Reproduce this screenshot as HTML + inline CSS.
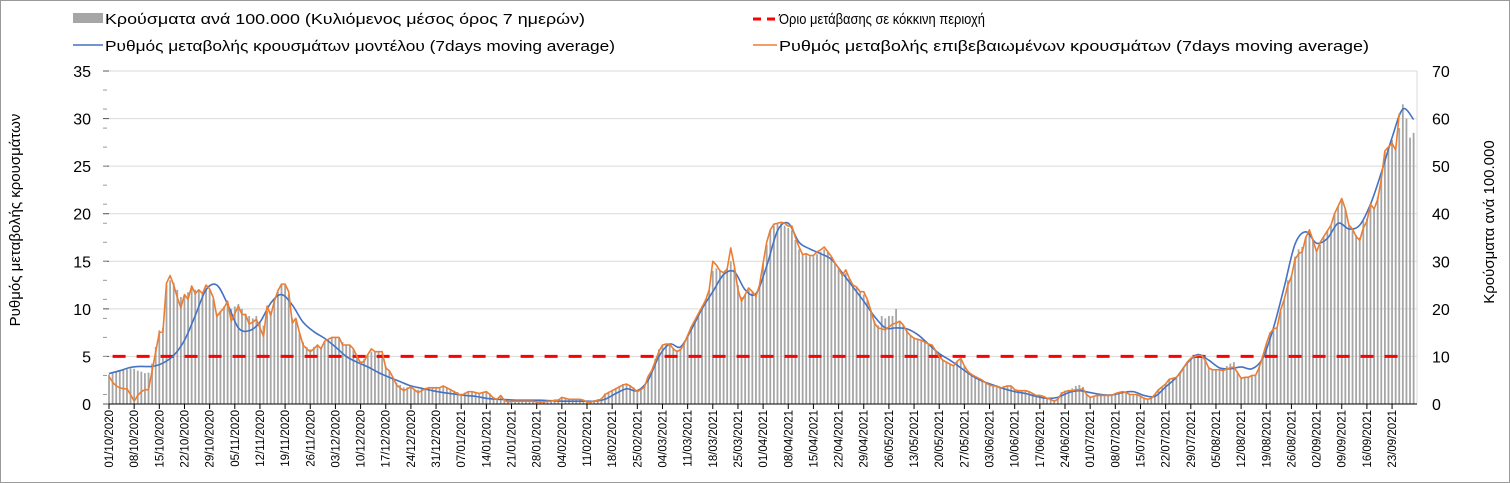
<!DOCTYPE html>
<html><head><meta charset="utf-8"><style>
html,body{margin:0;padding:0;background:#fff;}
svg{display:block;font-family:"Liberation Sans",Arial,sans-serif;}
</style></head><body>
<svg id="chart" width="1510" height="483" viewBox="0 0 1510 483">
<rect x="0.5" y="0.5" width="1509" height="482" fill="#fff" stroke="#9a9a9a"/>
<g id="grid"></g>
<g id="bars"></g>
<g id="thr"></g>
<g id="lines"></g>
<g id="axes"></g>
<g id="legend">
  <g>
    <rect x="73" y="13" width="30" height="10" fill="#a6a6a6"/>
    <text x="105" y="24" font-size="15" textLength="480" lengthAdjust="spacingAndGlyphs" fill="#000">Κρούσματα ανά 100.000 (Κυλιόμενος μέσος όρος 7 ημερών)</text>
  </g>
  <g>
    <line x1="73" y1="45" x2="103" y2="45" stroke="#4472c4" stroke-width="1.5"/>
    <text x="105" y="51" font-size="15" textLength="510" lengthAdjust="spacingAndGlyphs" fill="#000">Ρυθμός μεταβολής κρουσμάτων μοντέλου (7days moving average)</text>
  </g>
  <g>
    <line x1="753" y1="19" x2="778" y2="19" stroke="#ff0000" stroke-width="3" stroke-dasharray="8,6"/>
    <text x="779" y="24" font-size="15" textLength="206" lengthAdjust="spacingAndGlyphs" fill="#000">Όριο μετάβασης σε κόκκινη περιοχή</text>
  </g>
  <g>
    <line x1="753" y1="45" x2="777" y2="45" stroke="#ed7d31" stroke-width="1.5"/>
    <text x="779" y="51" font-size="15" textLength="590" lengthAdjust="spacingAndGlyphs" fill="#000">Ρυθμός μεταβολής επιβεβαιωμένων κρουσμάτων (7days moving average)</text>
  </g>
</g>
<text x="20" y="220" font-size="15" text-anchor="middle" transform="rotate(-90 20 220)">Ρυθμός μεταβολής κρουσμάτων</text>
<text x="1494" y="222" font-size="15" text-anchor="middle" transform="rotate(-90 1494 222)">Κρούσματα ανά 100.000</text>
</svg>
<script>
const startDate = [2020, 10, 1];
const threshold = 5;
const leftTicks = [0,5,10,15,20,25,30,35];
const rightTicks = [0,10,20,30,40,50,60,70];
const confirmedRate = [
2.9,2.3,1.9,1.7,1.6,1.6,1.0,0.3,0.9,1.3,
1.5,1.5,3.5,5.5,7.5,7.6,12.7,13.5,12.5,11.2,
10.1,11.5,11.0,12.4,11.6,12.0,11.6,12.5,12.1,11.2,
9.2,9.7,10.1,10.8,8.7,9.5,10.3,9.4,9.4,8.4,
8.6,8.9,8.0,7.1,10.3,9.3,10.8,11.9,12.6,12.6,
11.8,8.5,9.0,7.5,6.2,5.8,5.5,5.8,6.2,5.8,
6.6,6.8,7.0,7.0,7.0,6.2,6.2,6.2,5.8,5.0,
4.3,4.5,5.2,5.8,5.5,5.5,5.5,3.8,3.5,2.8,
2.0,1.7,1.4,1.6,1.8,1.5,1.2,1.4,1.6,1.7,
1.7,1.7,1.7,1.9,1.7,1.5,1.3,1.1,0.9,1.1,
1.3,1.3,1.2,1.1,1.2,1.3,1.0,0.6,0.5,0.9,
0.4,0.2,0.3,0.3,0.3,0.3,0.3,0.3,0.3,0.2,
0.2,0.2,0.3,0.3,0.4,0.4,0.7,0.6,0.5,0.5,
0.5,0.5,0.4,0.2,0.2,0.3,0.4,0.5,1.0,1.2,
1.4,1.6,1.8,2.0,2.1,1.9,1.6,1.3,1.5,1.8,
2.9,3.5,4.5,5.5,6.2,6.3,6.3,5.8,5.5,5.7,
6.3,7.2,8.1,8.8,9.5,10.2,10.9,12.0,15.0,14.6,
14.0,13.8,14.2,16.4,14.5,12.0,10.8,11.5,12.2,11.8,
11.3,12.5,14.8,17.0,18.3,18.9,19.0,19.1,19.0,18.7,
18.7,17.5,16.5,15.7,15.8,15.6,15.6,16.0,16.2,16.5,
16.0,15.5,14.8,14.3,13.5,14.1,13.2,12.5,12.3,11.8,
11.8,11.0,9.8,8.5,8.0,7.9,7.8,8.1,8.4,8.5,
8.7,8.3,7.6,7.2,6.9,6.8,6.7,6.5,6.3,6.2,
5.6,5.0,4.6,4.4,4.2,4.0,4.5,4.8,4.0,3.4,
3.1,2.9,2.7,2.5,2.2,2.0,1.9,1.9,1.65,1.8,
1.9,1.9,1.5,1.4,1.4,1.4,1.3,1.1,0.9,0.9,
0.8,0.6,0.5,0.3,0.5,1.1,1.3,1.4,1.4,1.5,
1.5,1.6,1.0,0.7,0.8,0.9,0.9,0.9,0.9,0.9,
1.1,1.2,1.3,1.2,1.0,1.0,1.0,0.8,0.6,0.5,
0.6,1.0,1.5,1.8,2.1,2.6,2.7,2.8,3.2,3.8,
4.4,4.8,5.0,5.1,5.1,4.6,3.8,3.6,3.6,3.6,
3.5,3.7,3.8,3.9,3.3,2.7,2.8,2.8,3.0,3.0,
3.8,5.0,6.3,7.4,7.9,8.0,9.9,11.0,12.5,13.4,
15.2,15.8,16.0,17.5,18.3,17.2,16.0,17.0,17.6,18.2,
18.8,20.0,20.8,21.6,20.5,18.8,18.4,17.6,17.2,18.5,
19.2,21.0,20.5,21.5,23.6,26.6,27.0,27.4,26.7,30.5
];
const modelStep = 3;
const modelRate = [
3.2,3.5,3.85,3.95,3.95,4.3,5.1,6.7,9.3,12.0,
12.5,10.5,8.0,7.7,8.6,10.6,11.5,10.4,8.6,7.6,
6.9,6.0,5.0,4.4,3.9,3.3,2.8,2.35,1.9,1.65,
1.4,1.2,1.05,0.9,0.8,0.6,0.5,0.45,0.4,0.4,
0.4,0.35,0.3,0.3,0.3,0.3,0.5,1.1,1.6,1.4,
2.5,5.0,6.3,6.0,7.8,10.0,11.8,13.6,13.9,12.0,
11.6,14.5,18.2,19.0,17.0,16.3,15.8,15.2,13.8,12.3,
10.8,9.2,8.0,8.0,7.9,7.3,6.3,5.3,4.6,3.8,
3.0,2.4,2.0,1.6,1.3,1.1,0.8,0.6,0.7,1.2,
1.4,1.2,1.0,0.95,1.2,1.3,0.9,0.8,1.8,2.8,
4.3,5.2,4.6,3.8,3.7,3.9,3.7,4.8,8.0,12.3,
16.8,18.1,16.9,17.4,19.0,18.4,18.8,21.0,24.3,28.0,
31.0,29.9
];
const casesPer100k = [
6.2,6.5,6.8,7.0,7.2,7.3,7.5,7.4,7.0,6.8,
6.5,6.6,8.5,12.0,15.5,16.0,25.0,26.0,25.5,24.0,
22.5,23.0,23.5,24.5,24.0,24.0,23.5,24.5,24.0,22.0,
19.0,19.5,20.5,21.5,20.0,20.5,21.0,20.0,19.0,18.5,
18.0,18.5,17.0,16.5,19.5,19.5,21.5,23.5,25.0,25.0,
23.0,18.0,17.5,15.0,13.0,12.0,11.5,12.0,12.5,12.0,
13.0,13.5,14.0,14.0,13.8,13.0,12.5,12.3,11.5,10.0,
9.0,9.5,10.5,11.0,11.0,11.0,10.5,8.0,7.0,5.5,
4.5,4.0,3.5,3.5,3.6,3.2,3.0,3.2,3.4,3.6,
3.6,3.6,3.6,3.8,3.5,3.2,2.8,2.5,2.2,2.4,
2.6,2.6,2.5,2.4,2.5,2.6,2.2,1.5,1.2,1.4,
1.0,0.8,0.8,0.8,0.8,0.8,0.8,0.8,0.7,0.7,
0.7,0.7,0.8,0.8,0.9,1.0,1.3,1.2,1.1,1.0,
1.0,1.0,0.9,0.7,0.7,0.8,1.0,1.3,2.2,2.6,
3.0,3.4,3.8,4.2,4.3,4.0,3.5,3.0,3.2,3.8,
5.5,7.0,9.5,11.5,12.5,12.6,12.4,11.8,11.3,11.6,
12.6,14.5,16.2,17.6,19.0,20.5,22.0,24.0,28.0,28.5,
28.0,27.6,28.5,30.0,28.5,25.0,22.5,23.0,24.0,23.5,
23.0,25.0,29.5,33.5,36.5,37.5,38.0,38.0,37.5,37.0,
36.5,34.5,32.5,31.5,31.5,31.0,31.0,31.5,32.0,32.5,
32.0,31.0,29.5,28.5,27.0,27.5,26.5,25.0,24.5,23.5,
23.0,22.0,19.5,17.5,16.5,18.5,18.0,18.5,18.5,20.0,
17.5,16.5,15.5,14.5,14.0,13.5,13.3,13.0,12.5,12.3,
11.2,10.2,9.3,8.8,8.5,8.2,8.8,9.5,8.0,7.0,
6.3,5.8,5.4,5.0,4.5,4.1,3.9,3.8,3.4,3.6,
3.8,3.8,3.1,2.9,2.8,2.8,2.6,2.3,1.9,1.8,
1.6,1.3,1.0,0.8,1.2,2.5,2.8,3.0,3.3,3.8,
4.0,3.6,2.2,1.6,1.8,1.9,1.9,1.9,1.9,1.9,
2.2,2.4,2.6,2.5,2.1,2.0,2.0,1.7,1.3,1.1,
1.3,2.1,3.0,3.6,4.2,5.2,5.5,5.7,6.4,7.6,
8.8,9.6,10.0,10.3,10.2,9.2,7.7,7.2,7.2,7.4,
7.6,8.0,8.5,8.8,6.8,5.6,5.6,5.8,6.0,6.2,
7.8,10.0,12.5,15.0,16.0,16.2,19.5,22.0,26.0,27.0,
31.0,32.5,33.0,35.0,36.5,34.5,32.0,33.5,35.0,36.5,
37.5,40.0,41.5,43.0,41.0,37.5,36.5,35.5,35.0,38.5,
39.0,41.5,41.0,43.5,47.5,53.0,54.0,55.5,53.5,58.0,
63.0,60.0,56.0,57.0
];

const NS = "http://www.w3.org/2000/svg";
const X0 = 109, PXD = 3.594, Y0 = 404, YTOP = 71, LMAX = 35, RMAX = 70, XR = 1417;
const nDays = casesPer100k.length;
function xScale(d){ return X0 + d * PXD; }
function yLeft(v){ return Y0 - v / LMAX * (Y0 - YTOP); }
function yRight(v){ return Y0 - v / RMAX * (Y0 - YTOP); }
function mk(tag, attrs, parent){
  const el = document.createElementNS(NS, tag);
  for (const k in attrs) el.setAttribute(k, attrs[k]);
  parent.appendChild(el);
  return el;
}
const grid = document.getElementById('grid');
const axes = document.getElementById('axes');
leftTicks.forEach(function(t){
  if (t > 0) {
    const g = mk('line', {x1: X0 - 6, x2: XR, y1: yLeft(t), y2: yLeft(t), stroke: '#d9d9d9', 'stroke-width': 1}, grid);
    
    
  }
  const tk = mk('line', {x1: X0 - 6, x2: X0, y1: yLeft(t), y2: yLeft(t), stroke: '#595959'}, axes);
  
  
  const lb = mk('text', {x: 91, y: yLeft(t) + 6, 'font-size': 16, 'text-anchor': 'end', fill: '#000'}, axes);
  lb.textContent = t;
  
  
});
for (let v = 1; v < LMAX; v += 2) {
  const mt = mk('line', {x1: X0 - 6, x2: X0 - 2, y1: yLeft(v), y2: yLeft(v), stroke: '#9a9a9a'}, axes);
  
  
}
rightTicks.forEach(function(t){
  const lb = mk('text', {x: 1432, y: yRight(t) + 6, 'font-size': 16, 'text-anchor': 'start', fill: '#000'}, axes);
  lb.textContent = t;
  
  
});
const ra = mk('line', {x1: XR, x2: XR, y1: YTOP, y2: Y0, stroke: '#d9d9d9'}, axes);



const barsG = document.getElementById('bars');
casesPer100k.forEach(function(v, i){
  const y = yRight(v);
  const b = mk('rect', {x: xScale(i) - 0.9, y: y, width: 1.8, height: Y0 - y, fill: '#a6a6a6'}, barsG);
  
  
});

const thrG = document.getElementById('thr');
const tl = mk('line', {x1: xScale(1), x2: xScale(nDays - 4), y1: yLeft(threshold), y2: yLeft(threshold), stroke: '#ff0000', 'stroke-width': 3, 'stroke-dasharray': '13,11'}, thrG);



const linesG = document.getElementById('lines');
function smoothPath(pts){
  let d = 'M' + pts[0][0] + ',' + pts[0][1];
  for (let i = 0; i < pts.length - 1; i++) {
    const p0 = pts[Math.max(0, i - 1)], p1 = pts[i], p2 = pts[i + 1], p3 = pts[Math.min(pts.length - 1, i + 2)];
    const c1x = p1[0] + (p2[0] - p0[0]) / 6, c1y = p1[1] + (p2[1] - p0[1]) / 6;
    const c2x = p2[0] - (p3[0] - p1[0]) / 6, c2y = p2[1] - (p3[1] - p1[1]) / 6;
    d += 'C' + c1x.toFixed(2) + ',' + c1y.toFixed(2) + ' ' + c2x.toFixed(2) + ',' + c2y.toFixed(2) + ' ' + p2[0].toFixed(2) + ',' + p2[1].toFixed(2);
  }
  return d;
}
const modelPts = modelRate.map(function(v, i){ return [xScale(i * modelStep), yLeft(v)]; });
const mp = mk('path', {d: smoothPath(modelPts), fill: 'none', stroke: '#4472c4', 'stroke-width': 1.6}, linesG);


const confPts = confirmedRate.map(function(v, i){ return xScale(i).toFixed(2) + ',' + yLeft(v).toFixed(2); });
const cp = mk('polyline', {points: confPts.join(' '), fill: 'none', stroke: '#ed7d31', 'stroke-width': 1.6, 'stroke-linejoin': 'round'}, linesG);



const xa = mk('line', {x1: X0, x2: XR, y1: Y0, y2: Y0, stroke: '#000', 'stroke-width': 1}, axes);


function pad(n){ return (n < 10 ? '0' : '') + n; }
for (let d = 0; d < nDays; d += 7) {
  const x = xScale(d);
  const t = mk('line', {x1: x, x2: x, y1: Y0, y2: Y0 + 5, stroke: '#000'}, axes);
  
  
  const dt = new Date(startDate[0], startDate[1] - 1, startDate[2] + d);
  const lbl = pad(dt.getDate()) + '/' + pad(dt.getMonth() + 1) + '/' + dt.getFullYear();
  const tx = mk('text', {x: x + 4, y: 410, 'font-size': 11.5, 'text-anchor': 'end', transform: 'rotate(-90 ' + (x + 4) + ' 410)', fill: '#000'}, axes);
  tx.textContent = lbl;
  
  
}
</script>
</body></html>
